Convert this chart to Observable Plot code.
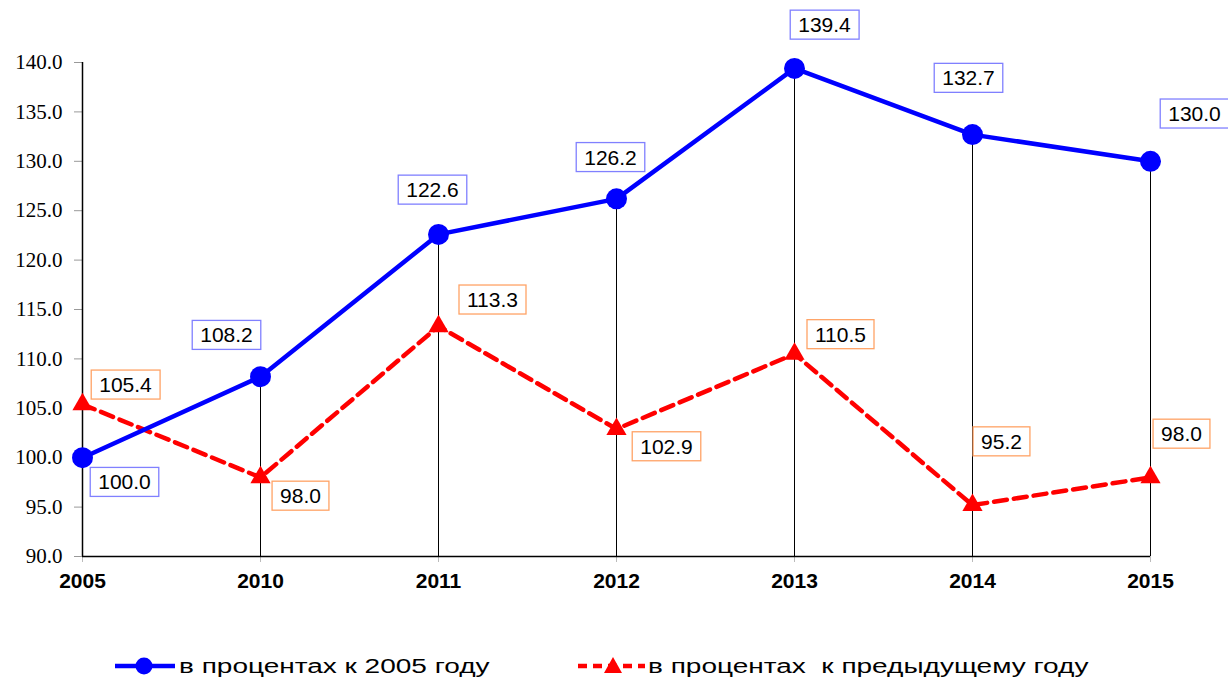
<!DOCTYPE html>
<html>
<head>
<meta charset="utf-8">
<script src="https://cdn.jsdelivr.net/npm/d3@7"></script>
<script src="https://cdn.jsdelivr.net/npm/@observablehq/plot@0.6"></script>
<style>
  html, body { margin: 0; padding: 0; background: #fff; }
  #chart svg { display: block; }
  #legend { position: relative; width: 1228px; height: 52px; font-family: Arial, "Liberation Sans", sans-serif; font-size: 20px; color: #000; }
  .item { position: absolute; top: 24px; display: flex; align-items: center; white-space: pre; }
  .item svg { display: block; }
  .item span { display: inline-block; transform: scaleX(1.4); transform-origin: left center; }
</style>
</head>
<body>
<div id="chart"></div>
<div id="legend"></div>
<script>
// ---- data ----
const years = ["2005", "2010", "2011", "2012", "2013", "2014", "2015"];
const pctOf2005 = [100.0, 108.2, 122.6, 126.2, 139.4, 132.7, 130.0];
const pctOfPrev = [105.4, 98.0, 113.3, 102.9, 110.5, 95.2, 98.0];
const yTicks = [90, 95, 100, 105, 110, 115, 120, 125, 130, 135, 140];
const seriesNames = ["в процентах к 2005 году", "в процентах  к предыдущему году"];

// ---- layout (label offsets in px, not data) ----
const blueLabelOffset = [[42, 25], [-34, -41], [-6, -44], [-6, -41], [30, -43], [-4, -56], [44, -47]];
const redLabelOffset = [[43, -19], [40, 19], [54, -26], [50, 18], [46, -19], [29, -63], [31, -43]];

const blue = "#0000FF", red = "#FF0000";
const blueBox = "#8080FF", redBox = "#FFA366";

const rows = years.map((y, i) => ({year: y, a: pctOf2005[i], b: pctOfPrev[i]}));
const yMin = yTicks[0], yMax = yTicks[yTicks.length - 1];

const labelMarks = [];
rows.forEach((r, i) => {
  labelMarks.push(Plot.text([r], {x: "year", y: "a", text: d => d.a.toFixed(1), dx: blueLabelOffset[i][0], dy: blueLabelOffset[i][1],
    fontSize: 21, fontFamily: "Arial, Liberation Sans, sans-serif", fill: "#000", className: "lab-blue"}));
  labelMarks.push(Plot.text([r], {x: "year", y: "b", text: d => d.b.toFixed(1), dx: redLabelOffset[i][0], dy: redLabelOffset[i][1],
    fontSize: 21, fontFamily: "Arial, Liberation Sans, sans-serif", fill: "#000", className: "lab-red"}));
});

const chart = Plot.plot({
  width: 1228,
  height: 630,
  marginTop: 62,
  marginBottom: 74,
  marginLeft: 82,
  marginRight: 78,
  style: {background: "#fff", overflow: "visible"},
  x: {type: "point", domain: years, padding: 0, label: null},
  y: {domain: [yMin, yMax], label: null},
  marks: [
    Plot.axisY({ticks: yTicks, tickSize: 8, tickFormat: d => d.toFixed(1), stroke: "#999", fill: "#000",
      tickPadding: 12, label: null, fontSize: 21, fontFamily: "Liberation Serif"}),
    Plot.axisX({tickSize: 6, stroke: "#bbb", fill: "#000", tickPadding: 11, label: null, fontSize: 21, fontWeight: "bold", fontFamily: "Liberation Sans"}),
    Plot.ruleX(rows, {x: "year", y1: yMin, y2: "a", stroke: "#000", strokeWidth: 1}),
    Plot.ruleX([years[0]], {stroke: "#000", strokeWidth: 1.5}),
    Plot.ruleY([yMin], {stroke: "#000", strokeWidth: 1.5}),
    Plot.line(rows, {x: "year", y: "b", stroke: red, strokeWidth: 4.5, strokeDasharray: "13,7"}),
    Plot.dot(rows, {x: "year", y: "b", symbol: "triangle", r: 7.5, fill: red, stroke: "none"}),
    Plot.line(rows, {x: "year", y: "a", stroke: blue, strokeWidth: 4.5}),
    Plot.dot(rows, {x: "year", y: "a", r: 10.5, fill: blue, stroke: "none"}),
    ...labelMarks
  ]
});
document.getElementById("chart").appendChild(chart);

// draw boxes around value labels
function boxLabels(cls, color) {
  chart.querySelectorAll("g." + cls + " text").forEach(t => {
    const b = t.getBBox();
    const rect = document.createElementNS("http://www.w3.org/2000/svg", "rect");
    rect.setAttribute("x", b.x - 8);
    rect.setAttribute("y", b.y - 3);
    rect.setAttribute("width", b.width + 16);
    rect.setAttribute("height", b.height + 6);
    rect.setAttribute("fill", "#fff");
    rect.setAttribute("stroke", color);
    rect.setAttribute("stroke-width", 1.3);
    const tr = t.getAttribute("transform");
    if (tr) rect.setAttribute("transform", tr);
    t.parentNode.insertBefore(rect, t);
  });
}
boxLabels("lab-blue", blueBox);
boxLabels("lab-red", redBox);

// legend
const legend = document.getElementById("legend");
function item(left, w, svgInner, text) {
  const d = document.createElement("div");
  d.className = "item";
  d.style.left = left + "px";
  d.innerHTML = `<svg width="${w}" height="24" viewBox="0 0 ${w} 24">${svgInner}</svg><span>${text}</span>`;
  legend.appendChild(d);
}
item(115, 64, `<line x1="0" y1="12" x2="60" y2="12" stroke="${blue}" stroke-width="4.5"/><circle cx="29" cy="12" r="8.5" fill="${blue}"/>`, seriesNames[0]);
item(578, 70, `<line x1="0" y1="12" x2="67" y2="12" stroke="${red}" stroke-width="4.5" stroke-dasharray="9,6"/><path d="M35,3 L44,19 L26,19 Z" fill="${red}"/>`, seriesNames[1]);
</script>
</body>
</html>
